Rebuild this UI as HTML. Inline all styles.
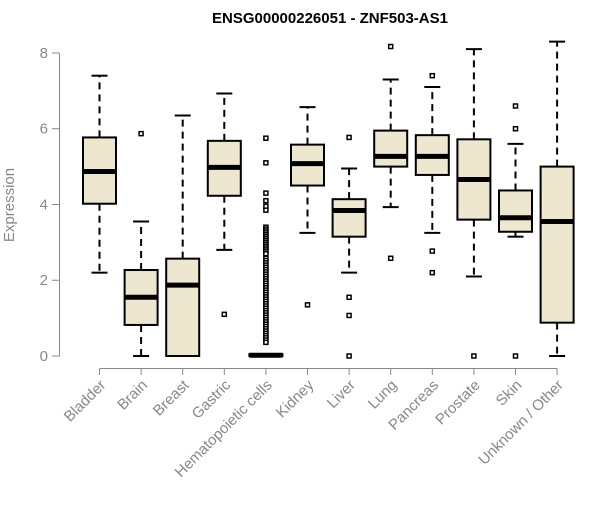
<!DOCTYPE html>
<html><head><meta charset="utf-8"><style>body{margin:0;background:#fff}svg{font-family:"Liberation Sans",sans-serif}</style></head>
<body>
<svg id="c" width="600" height="500">
<text x="330" y="23" text-anchor="middle" font-weight="bold" font-size="15" fill="#000">ENSG00000226051 - ZNF503-AS1</text>
<text transform="translate(14,205) rotate(-90)" text-anchor="middle" font-size="15" fill="#888">Expression</text>
</svg>
<script>
const categories=["Bladder","Brain","Breast","Gastric","Hematopoietic cells","Kidney","Liver","Lung","Pancreas","Prostate","Skin","Unknown / Other"];
const whiskLo=[2.2,0,0,2.8,0,3.25,2.2,3.93,3.25,2.1,3.15,0];
const q1=[4.02,0.82,0,4.23,0,4.5,3.15,5.0,4.78,3.6,3.28,0.88];
const med=[4.87,1.55,1.87,4.98,0.02,5.08,3.84,5.27,5.27,4.66,3.65,3.55];
const q3=[5.77,2.27,2.57,5.68,0.05,5.58,4.14,5.95,5.83,5.72,4.37,5.0];
const whiskHi=[7.4,3.55,6.35,6.93,0.05,6.57,4.95,7.3,7.1,8.1,5.6,8.3];
const outliers=[[],[5.87],[],[1.1],
[5.75,5.1,4.3,4.1,3.95,3.85,3.4,3.35,3.3,3.25,3.2,3.15,3.1,3.05,3.0,2.95,2.9,2.85,2.8,2.75,2.7,2.58,2.52,2.46,2.4,2.34,2.28,2.22,2.16,2.1,2.04,1.98,1.92,1.86,1.8,1.74,1.68,1.62,1.56,1.5,1.44,1.38,1.32,1.26,1.2,1.14,1.08,1.02,0.96,0.9,0.84,0.78,0.72,0.66,0.6,0.54,0.48,0.42,0.36],
[1.35],[5.77,1.55,1.07,0],[8.17,2.58],[7.4,2.77,2.2],[0],[6.6,6.0,0],[]];
const yTicks=[0,2,4,6,8];
const NS="http://www.w3.org/2000/svg",svg=document.getElementById('c');
const y=v=>356-v*37.88, x=i=>99.5+i*41.6;
function mk(t,a,p){const e=document.createElementNS(NS,t);for(const k in a)e.setAttribute(k,a[k]);(p||svg).appendChild(e);return e;}
let ax=mk('line',{x1:59.5,x2:59.5,y1:y(0),y2:y(8),stroke:'#888'});


yTicks.forEach(t=>{mk('line',{x1:52,x2:59.5,y1:y(t),y2:y(t),stroke:'#888'});
const tx=mk('text',{x:48,y:y(t)+5,'text-anchor':'end','font-size':15,fill:'#888'});tx.textContent=t;

});
let xa=mk('line',{x1:x(0),x2:x(11),y1:368.5,y2:368.5,stroke:'#888'});


categories.forEach((c,i)=>{const cx=x(i),hw=16.5;
const g=mk('g',{});


mk('line',{x1:cx,x2:cx,y1:368.5,y2:375,stroke:'#888'});
const lb=mk('text',{transform:`translate(${cx+7},${386}) rotate(-45)`,'text-anchor':'end','font-size':15,fill:'#888'});lb.textContent=c;


mk('line',{x1:cx,x2:cx,y1:y(q3[i]),y2:y(whiskHi[i]),stroke:'#000','stroke-width':2,'stroke-dasharray':'7,5'},g);
mk('line',{x1:cx,x2:cx,y1:y(q1[i]),y2:y(whiskLo[i]),stroke:'#000','stroke-width':2,'stroke-dasharray':'7,5'},g);
mk('line',{x1:cx-8,x2:cx+8,y1:y(whiskHi[i]),y2:y(whiskHi[i]),stroke:'#000','stroke-width':2},g);
mk('line',{x1:cx-8,x2:cx+8,y1:y(whiskLo[i]),y2:y(whiskLo[i]),stroke:'#000','stroke-width':2},g);
mk('rect',{x:cx-hw,y:y(q3[i]),width:hw*2,height:Math.max(y(q1[i])-y(q3[i]),1),fill:'#ede7cf',stroke:'#000','stroke-width':2},g);
mk('line',{x1:cx-hw,x2:cx+hw,y1:y(med[i]),y2:y(med[i]),stroke:'#000','stroke-width':5},g);
outliers[i].forEach(v=>{const o=mk('rect',{x:cx-2,y:y(v)-2,width:4,height:4,fill:'#fff',stroke:'#000','stroke-width':1.5},g);

});
});
</script>
</body></html>
